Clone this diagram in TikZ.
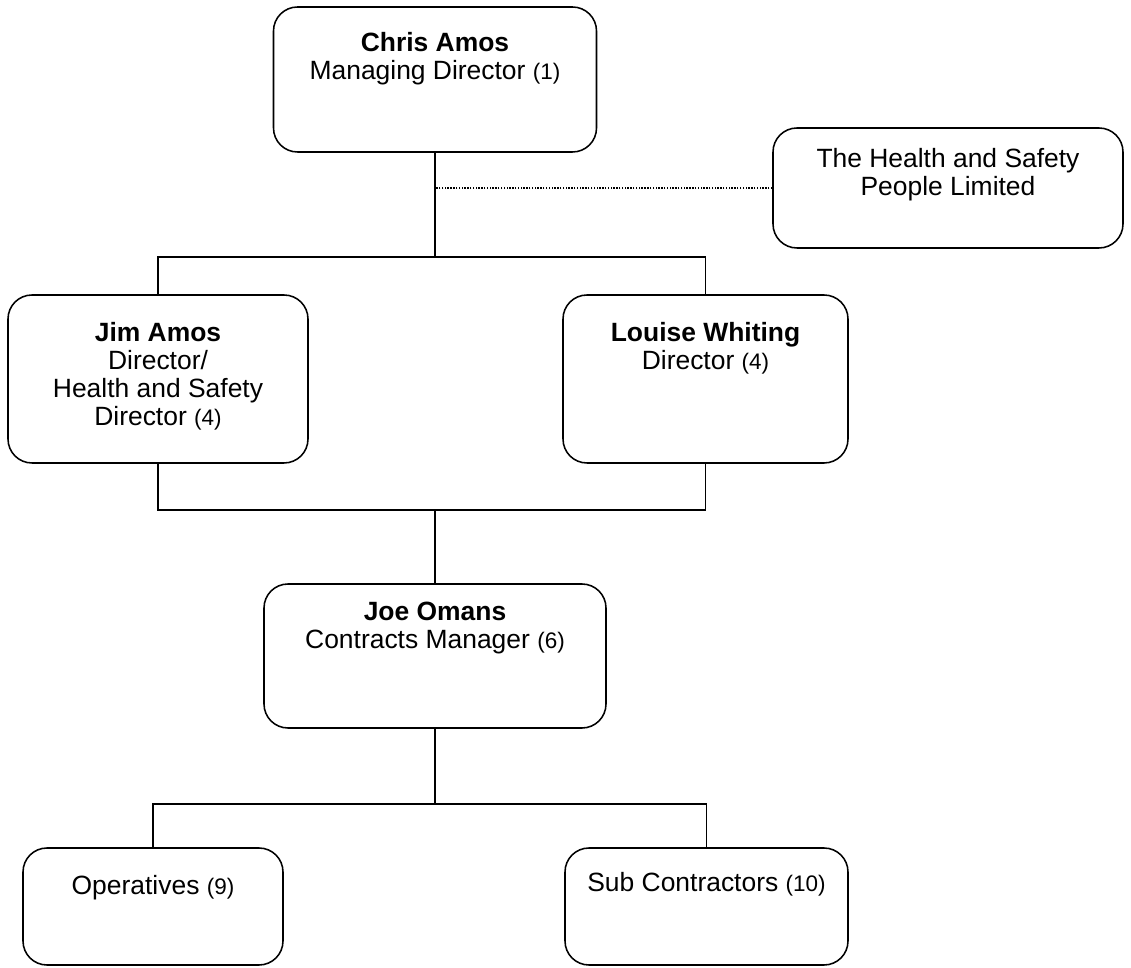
\documentclass[tikz,border=0pt]{standalone}
\usepackage{fontspec}
\setmainfont{Liberation Sans}
\newcommand{\nr}[1]{{\fontsize{16}{20}\selectfont(#1)}}
\begin{document}
\begin{tikzpicture}[orgbox/.style={shape=rectangle, draw, line width=1.1pt, rounded corners=0.6cm}, boxtext/.style={anchor=north, align=center, inner sep=0pt, font=\fontsize{18.8}{20}\selectfont}, wire/.style={line width=1.1pt}]
	\useasboundingbox (0,0) rectangle (28.275, 24.175);
	% Boxes and their texts:
	\node[orgbox, minimum width=8.075cm, minimum height=3.625cm] (chris) at (10.875, 22.1875){} node[boxtext] at (10.875, 23.375){\textbf{Chris Amos}\\Managing Director \nr{1}};
	\node[orgbox, minimum width=8.75cm, minimum height=3cm] (hsp) at (23.7, 19.475){} node[boxtext] at (23.7, 20.475){The Health and Safety\\People Limited};
	\node[orgbox, minimum width=7.5cm, minimum height=4.2cm] (jim) at (3.95, 14.7){} node[boxtext] at (3.95, 16.125){\textbf{Jim Amos}\\Director/\\Health and Safety\\Director \nr{4}};
	\node[orgbox, minimum width=7.125cm, minimum height=4.2cm] (louise) at (17.6375, 14.7){} node[boxtext] at (17.6375, 16.125){\textbf{Louise Whiting}\\Director \nr{4}};
	\node[orgbox, minimum width=8.55cm, minimum height=3.6cm] (joe) at (10.875, 7.775){} node[boxtext] at (10.875, 9.125){\textbf{Joe Omans}\\Contracts Manager \nr{6}};
	\node[orgbox, minimum width=6.5cm, minimum height=2.925cm] (ops) at (3.825, 1.5125){} node[boxtext] at (3.825, 2.3){Operatives \nr{9}};
	\node[orgbox, minimum width=7.075cm, minimum height=2.925cm] (subs) at (17.6625, 1.5125){} node[boxtext] at (17.6625, 2.375){Sub Contractors \nr{10}};
	% Wires:
	\coordinate (topbar) at (10.875, 17.75);
	\coordinate (midbar) at (10.875, 11.425);
	\coordinate (lowbar) at (10.875, 4.075);
	\draw[wire] (chris.south) -- (topbar);
	\draw[wire] (jim.north) |- (topbar) -| (louise.north);
	\draw[line width=1pt, densely dotted] (hsp.west) -- (hsp.west -| chris.south);
	\draw[wire] (jim.south) |- (midbar) -| (louise.south);
	\draw[wire] (midbar) -- (joe.north);
	\draw[wire] (joe.south) -- (lowbar);
	\draw[wire] (ops.north) |- (lowbar) -| (subs.north);
\end{tikzpicture}
\end{document}
